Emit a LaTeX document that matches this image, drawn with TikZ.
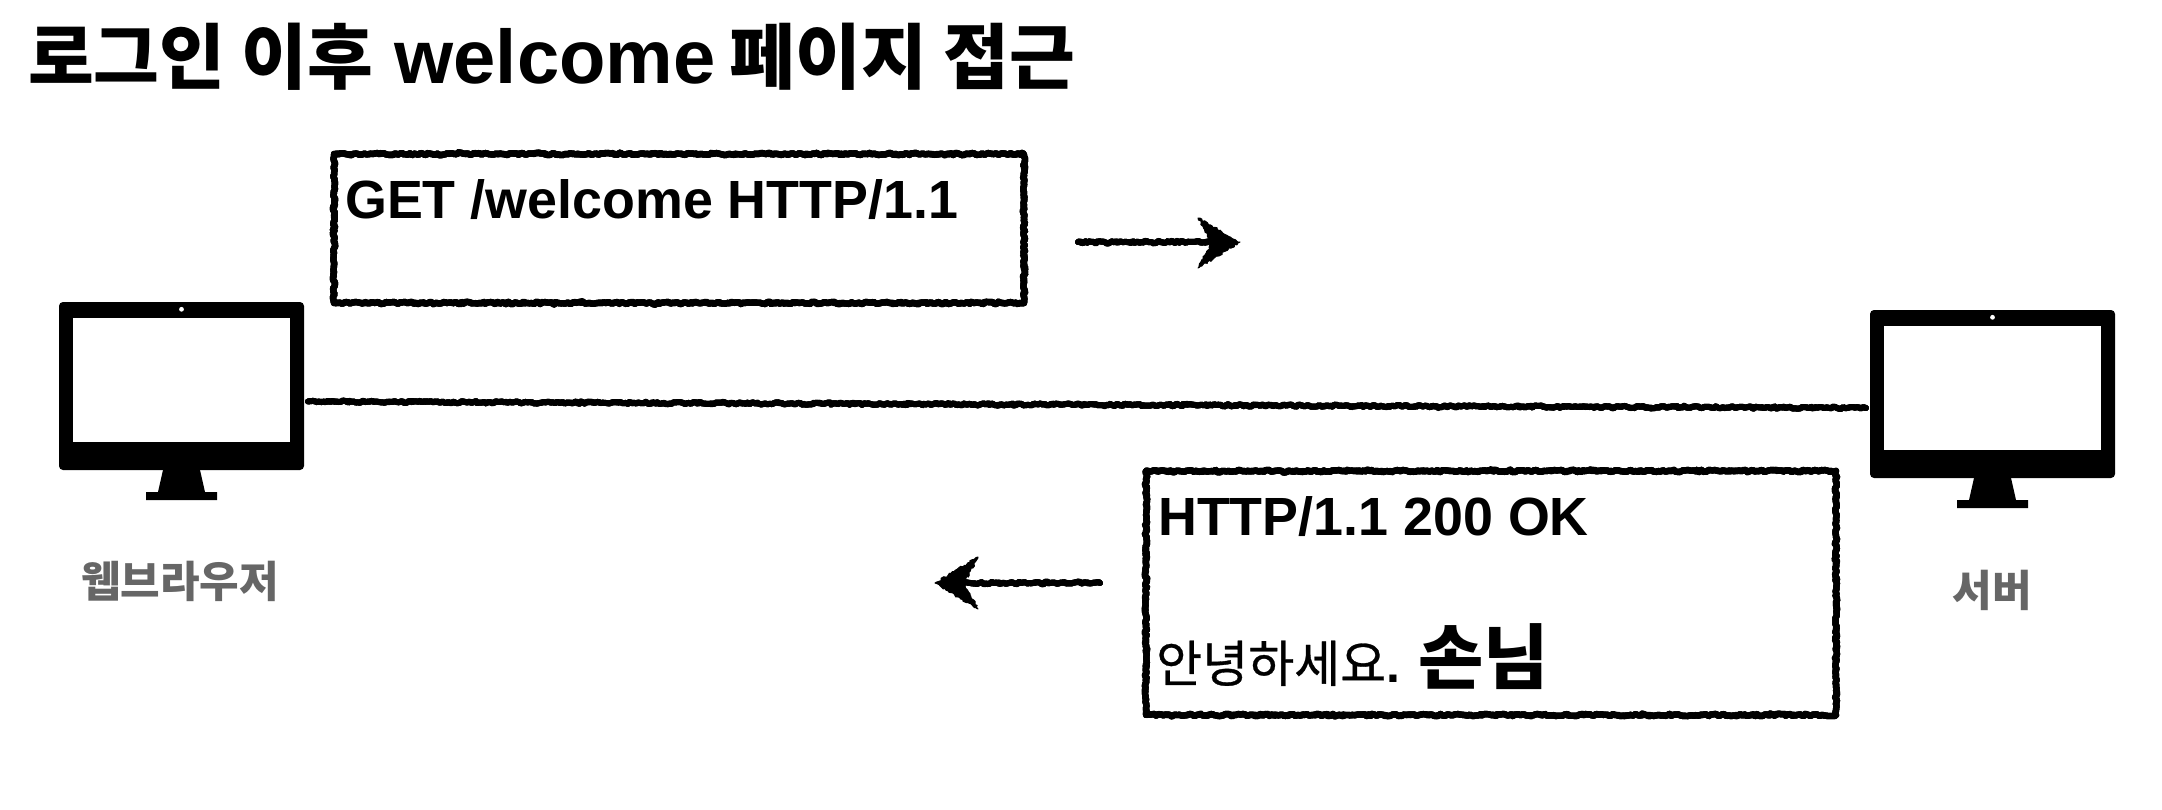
\documentclass[tikz,border=0pt]{standalone}
\usepackage{fontspec}
\setmainfont{Liberation Sans}
\newfontfamily\cjk{Noto Sans CJK KR}
\newfontfamily\cjkmed[FakeBold=0.6]{Noto Sans CJK KR}
\usetikzlibrary{decorations.pathmorphing,arrows.meta}
\definecolor{lbl}{HTML}{666666}
\pgfmathsetseed{7}
\tikzset{
  pass/.style={decoration={random steps,segment length=2.2pt,amplitude=1.1pt},decorate,draw=black,line width=#1,line join=round,line cap=round},
  rough/.style={pass=#1,preaction={pass=#1},postaction={pass=#1}},
  rough/.default=6pt,
  frame/.style={rough=6.4pt},
  titletext/.style={anchor=base west,inner sep=0pt,font=\fontsize{76}{76}\selectfont\bfseries},
  msgtext/.style={anchor=base west,inner sep=0pt,font=\fontsize{53.8}{54}\selectfont\bfseries},
  caption/.style={anchor=base,inner sep=0pt,text=lbl,font=\fontsize{43}{43}\selectfont\bfseries\cjk},
  hub/.style={rectangle,minimum width=245pt,minimum height=168pt,inner sep=0pt,outer sep=0pt},
  blot/.style={fill=black,draw=black,line width=1pt,line join=round,decorate,decoration={random steps,segment length=2pt,amplitude=1.2pt}}
}
\newcommand{\monitor}[3]{%
  \begin{scope}[shift={(#1,#2)}]
    \fill[black,rounded corners=4pt] (59,302) rectangle (304,470);
    \fill[white] (73,318) rectangle (290,441.5);
    \fill[white] (181.5,309.3) circle[radius=2.4];
    \fill[black] (163,470) -- (200,470) -- (205,492) -- (217,492) -- (217,500) -- (146,500) -- (146,492) -- (158,492) -- cycle;
    \node[hub] (#3) at (181.5,386) {};
  \end{scope}}
\begin{document}
\begin{tikzpicture}[x=1pt,y=-1pt]
\useasboundingbox (0,0) rectangle (2162,810);
\fill[white] (0,0) rectangle (2162,810);
\monitor{0}{0}{browser}
\monitor{1811}{8}{server}
\node[titletext] (title) at (28,84) {{\cjk\fontsize{71.5}{72}\selectfont 로그인 이후} welcome\hspace{-7pt} {\cjk\fontsize{71.5}{72}\selectfont 페이지 접근}};
\node[caption] (browserlabel) at (180,597) {웹브라우저};
\node[caption] (serverlabel) at (1992,606) {서버};
% request box
\coordinate (reqa) at (334,154); \coordinate (reqb) at (1024,303);
\draw[frame] (reqa) rectangle (reqb);
\node[msgtext] (req) at (345,219) {GET /welcome HTTP/1.1};
% response box
\coordinate (resa) at (1146,471); \coordinate (resb) at (1836,715);
\draw[frame] (resa) rectangle (resb);
\node[msgtext] (res) at (1158,535) {HTTP/1.1 200 OK};
\node[anchor=base west,inner sep=0pt,font=\fontsize{50}{50}\selectfont] (hello) at (1156,682) {{\cjkmed 안녕하세요}\bfseries.};
\node[anchor=base west,inner sep=0pt,font=\fontsize{71}{71}\selectfont\bfseries\cjk] (guest) at (1418,683) {손님};
% link
\draw[rough=6pt] ([xshift=4pt]browser.east |- 0,401.5) -- ([xshift=-4pt]server.west |- 0,408);
% arrows
\coordinate (r1) at (1078,242); \coordinate (r2) at (1225,242);
\coordinate (r3) at (1198,218); \coordinate (r4) at (1198,268);
\draw[rough=6pt] (r1) -- (r2);
\path[blot] (r3) -- (1240,242) -- (r4) -- (1212,242) -- cycle;
\coordinate (l1) at (1100,583); \coordinate (l2) at (950,583);
\coordinate (l3) at (978,557); \coordinate (l4) at (978,609);
\draw[rough=6pt] (l1) -- (l2);
\path[blot] (l3) -- (935,583) -- (l4) -- (964,583) -- cycle;
\end{tikzpicture}
\end{document}
